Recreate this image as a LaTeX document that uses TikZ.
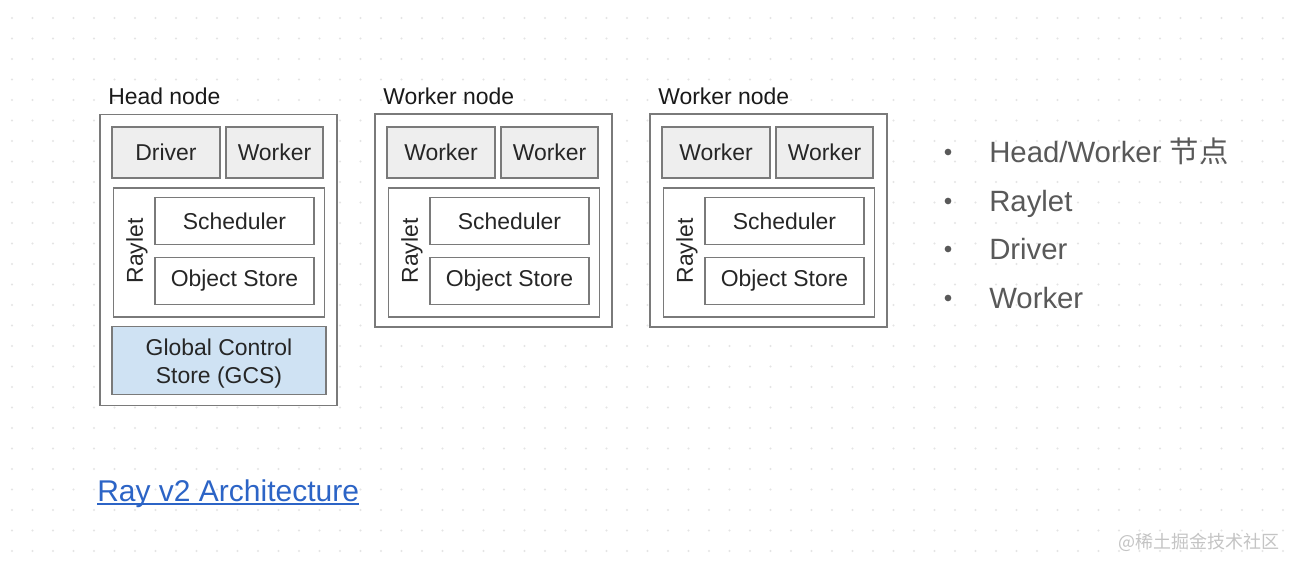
\documentclass[tikz,border=0pt]{standalone}
\usepackage{fontspec}
\setmainfont{Liberation Sans}
\newfontfamily\cjk{Noto Sans CJK SC}
\usetikzlibrary{positioning}

\definecolor{boxline}{HTML}{7A7A7A}
\definecolor{procfill}{HTML}{EEEEEE}
\definecolor{gcsfill}{HTML}{CFE2F3}
\definecolor{bullettext}{HTML}{595959}
\definecolor{linkblue}{HTML}{2C64C6}
\definecolor{gridgray}{HTML}{E4E4E4}
\definecolor{markgray}{HTML}{C4C4C4}

\tikzset{
	box/.style={rectangle, draw=boxline, line width=1.1pt, fill=white, inner sep=0pt, text=black!85,
		font=\fontsize{17.2}{21}\selectfont},
	proc/.style={box, fill=procfill},
	title/.style={anchor=west, inner sep=0pt, text=black!90, font=\fontsize{17.2}{20}\selectfont},
	vlabel/.style={rotate=90, inner sep=0pt, text=black!85, font=\fontsize{17.2}{20}\selectfont},
	bullet/.style={anchor=base west, inner sep=0pt, text=bullettext, font=\fontsize{22}{26}\selectfont}
}

\begin{document}
\begin{tikzpicture}[x=0.75pt, y=-0.75pt]
	\fill[white] (0,0) rectangle (1296,570);
	\useasboundingbox (0,0) rectangle (1296,570);
	% dotted background
	\foreach \i in {0,...,63}
		\foreach \j in {0,...,27}
			\fill[gridgray] (12+20.5*\i, 18+20.5*\j) circle[radius=0.8pt];

	% head node
	\node[title] (headlbl) at (108, 96) {Head node};
	\node[box, minimum width=177.75pt, minimum height=218.25pt] (head) at (218.5, 260) {};
	\node[proc, minimum width=81pt, minimum height=38.25pt] (driver) at (166, 152.5) {Driver};
	\node[proc, minimum width=72.75pt, minimum height=38.25pt] (hworker) at (274.5, 152.5) {Worker};
	\node[box, minimum width=158.25pt, minimum height=96.75pt] (hraylet) at (219, 252.5) {};
	\node[vlabel] (hrl) at (137, 251) {Raylet};
	\node[box, minimum width=119.25pt, minimum height=35.25pt] (hsched) at (234.5, 221) {Scheduler};
	\node[box, minimum width=119.25pt, minimum height=35.25pt] (hstore) at (234.5, 281) {Object Store};
	\node[box, fill=gcsfill, minimum width=160.5pt, minimum height=51pt] (gcs) at (219, 360.5) {};
	\node[inner sep=0pt, align=center, text=black!85, font=\fontsize{17.2}{21}\selectfont] (gcstxt) at (219, 364)
		{Global Control\\Store (GCS)};

	% worker nodes
	\foreach \dx/\nm in {275/wa, 550/wb} {
		\node[title] (\nm lbl) at (108+\dx, 96) {Worker node};
		\node[box, minimum width=177.75pt, minimum height=159.75pt] (\nm) at (218.5+\dx, 220.5) {};
		\node[proc, minimum width=81pt, minimum height=38.25pt] (\nm w1) at (166+\dx, 152.5) {Worker};
		\node[proc, minimum width=72.75pt, minimum height=38.25pt] (\nm w2) at (274.5+\dx, 152.5) {Worker};
		\node[box, minimum width=158.25pt, minimum height=96.75pt] (\nm raylet) at (219+\dx, 252.5) {};
		\node[vlabel] (\nm rl) at (137+\dx, 251) {Raylet};
		\node[box, minimum width=119.25pt, minimum height=35.25pt] (\nm sched) at (234.5+\dx, 221) {Scheduler};
		\node[box, minimum width=119.25pt, minimum height=35.25pt] (\nm store) at (234.5+\dx, 281) {Object Store};
	}

	% bullet list
	\foreach \y/\txt [count=\k] in {153/{Head/Worker {\cjk 节点}}, 202/Raylet, 250/Driver, 299/Worker} {
		\node[circle, fill=bullettext, inner sep=0pt, minimum size=5pt] (dot\k) at (948, \y-1) {};
		\node[bullet] (item\k) at (989, \y+10) {\txt};
	}

	% link and watermark
	\node[anchor=base west, inner sep=0pt, text=linkblue, font=\fontsize{22.5}{26}\selectfont] (link) at (97, 501)
		{Ray v2 Architecture};
	\draw[linkblue, line width=1.4pt] ([yshift=-2.2pt]link.base west) -- ([yshift=-2.2pt]link.base east);
	\node[anchor=east, inner sep=0pt, text=markgray, font=\cjk\fontsize{13.5}{15}\selectfont] (mark) at (1280, 542)
		{@稀土掘金技术社区};
\end{tikzpicture}
\end{document}
